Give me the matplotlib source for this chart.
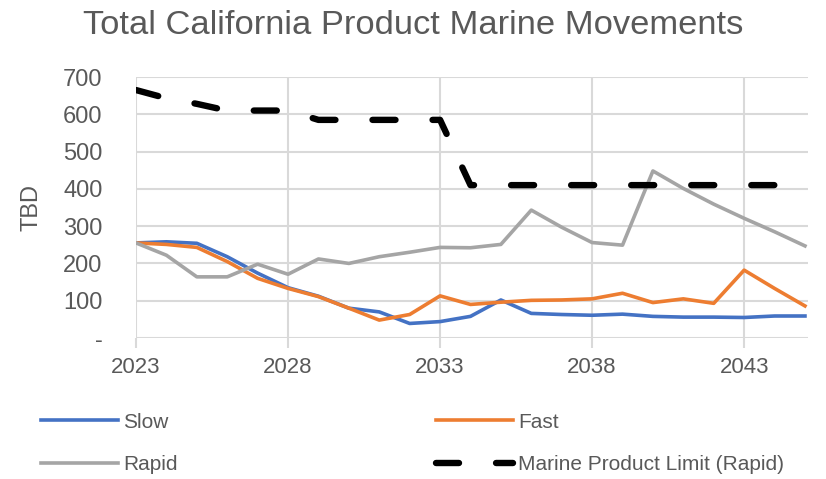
import numpy as np
import matplotlib
matplotlib.use('Agg')
import matplotlib.pyplot as plt

years = list(range(2023, 2046))
slow = [255, 258, 254, 218, 174, 135, 112, 80, 70, 39, 44, 58, 102, 66, 63, 61, 64, 58, 56, 56, 55, 59, 59]
fast = [255, 251, 243, 205, 160, 133, 111, 80, 48, 63, 113, 90, 96, 101, 102, 105, 120, 95, 105, 93, 182, 133, 86]
rapid = [255, 222, 164, 164, 198, 171, 212, 200, 218, 230, 243, 242, 251, 343, 297, 256, 249, 448, 401, 359, 321, 285, 247]
limit = [665, 643, 628, 610, 610, 610, 585, 585, 585, 585, 585, 410, 410, 410, 410, 410, 410, 410, 410, 410, 410, 410, 410]
xticks = [2023, 2028, 2033, 2038, 2043]
yticks = [0, 100, 200, 300, 400, 500, 600, 700]
ylabels = ['-', '100', '200', '300', '400', '500', '600', '700']

TXT = '#595959'
GRID = '#d9d9d9'
plt.rcParams['font.family'] = ['Liberation Sans', 'DejaVu Sans']

W, H = 826, 479
fig = plt.figure(figsize=(W / 100, H / 100), dpi=100)
ax = fig.add_axes([136 / W, 1 - 338 / H, (808 - 136) / W, (338 - 77) / H])

l_slow, = ax.plot(years, slow, color='#4472C4', lw=2.6, label='Slow', solid_joinstyle='round')
l_fast, = ax.plot(years, fast, color='#ED7D31', lw=2.6, label='Fast', solid_joinstyle='round')
l_rapid, = ax.plot(years, rapid, color='#A5A5A5', lw=2.6, label='Rapid', solid_joinstyle='round')
l_lim, = ax.plot(years, limit, color='black', lw=4.6, linestyle=(0, (3.6, 5.8)),
                 dash_capstyle='round', label='Marine Product Limit (Rapid)')

ax.set_xlim(2023, 2045.1)
ax.set_ylim(0, 700)
ax.set_xticks(xticks)
ax.set_yticks(yticks)
ax.set_yticklabels(ylabels)
for s in ax.spines.values():
    s.set_visible(False)
ax.grid(True, color=GRID, lw=1.5)
ax.set_axisbelow(True)
ax.tick_params(axis='y', length=0, pad=24, labelsize=17, labelcolor=TXT)
ax.tick_params(axis='x', length=7, width=1.5, color=GRID, pad=7, labelsize=16, labelcolor=TXT)
ax.set_ylabel('TBD', fontsize=17, color=TXT, labelpad=15)

fig.suptitle('Total California Product Marine Movements', x=0.5, y=0.98, fontsize=24.8,
             color=TXT, va='top')

# row-wise order like the original: Slow, Fast / Rapid, Limit
handles = [l_slow, l_rapid, l_fast, l_lim]
fig.legend(handles, [h.get_label() for h in handles], loc='upper left',
           bbox_to_anchor=(22 / W, 1 - 394 / H), ncol=2, frameon=False,
           prop={'size': 15}, labelcolor=TXT,
           handlelength=3.7, handletextpad=0.25, columnspacing=12.4, labelspacing=1.14)

fig.savefig('out.png', dpi=100)
